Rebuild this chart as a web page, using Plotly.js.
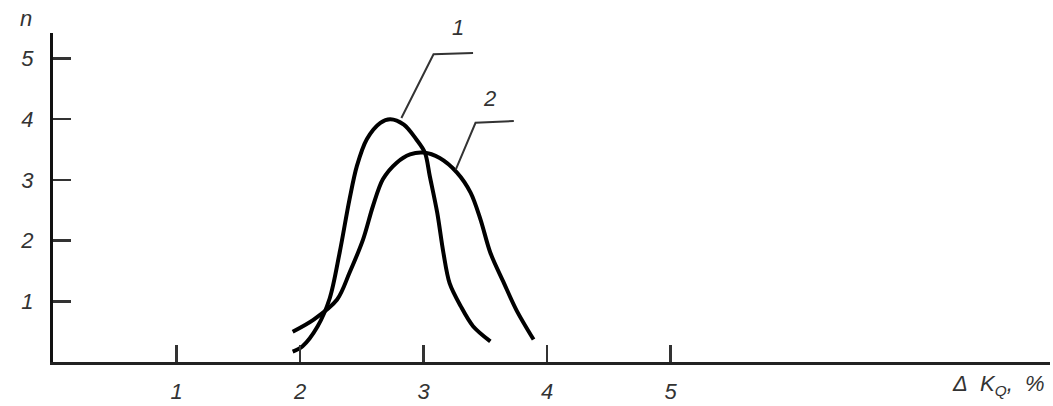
<!DOCTYPE html>
<html>
<head>
<meta charset="utf-8">
<script src="https://cdn.plot.ly/plotly-3.0.1.min.js"></script>
<style>
  html, body { margin: 0; padding: 0; background: #fff; }
  #chart { width: 1053px; height: 406px; }
</style>
</head>
<body>
<div id="chart"></div>
<script>
// Curve 1 (narrower, taller)
const curve1X = [1.94, 2.02, 2.14, 2.24, 2.32, 2.40, 2.46, 2.54, 2.65, 2.73, 2.84, 2.94, 3.01, 3.05, 3.11, 3.16, 3.21, 3.30, 3.40, 3.54];
const curve1Y = [0.17, 0.26, 0.58, 1.05, 1.80, 2.68, 3.23, 3.67, 3.94, 4.00, 3.91, 3.67, 3.45, 3.06, 2.46, 1.80, 1.30, 0.92, 0.59, 0.34];
// Curve 2 (broader, lower)
const curve2X = [1.94, 2.11, 2.30, 2.40, 2.51, 2.59, 2.67, 2.78, 2.89, 3.00, 3.13, 3.27, 3.38, 3.46, 3.54, 3.65, 3.75, 3.89];
const curve2Y = [0.50, 0.70, 1.03, 1.47, 2.02, 2.57, 3.01, 3.28, 3.42, 3.45, 3.36, 3.12, 2.79, 2.35, 1.80, 1.30, 0.86, 0.37];
// Leader lines for curve labels
const leader1X = [2.82, 3.08, 3.40];
const leader1Y = [4.02, 5.07, 5.09];
const leader2X = [3.26, 3.42, 3.73];
const leader2Y = [3.17, 3.94, 3.97];
const curveLabels = ['1', '2'];
const labelX = [3.28, 3.53];
const labelY = [5.51, 4.34];
// Ticks
const xTickVals = [1, 2, 3, 4, 5];
const xTickText = ['1', '2', '3', '4', '5'];
const yTickVals = [1, 2, 3, 4, 5];
const yTickText = ['1', '2', '3', '4', '5'];
const yTitle = 'n';
const xTitle = 'Δ\u00a0\u00a0K<sub>Q</sub>,\u00a0\u00a0%';

const Y_MAX = 5.42;
const X_MAX = 8.07;

const tickFont = { family: 'Liberation Sans, DejaVu Sans, sans-serif', size: 22, color: '#333', style: 'italic' };

const traces = [
  { x: curve1X, y: curve1Y, mode: 'lines', line: { color: '#000', width: 4, shape: 'spline', smoothing: 0.9 }, hoverinfo: 'skip' },
  { x: curve2X, y: curve2Y, mode: 'lines', line: { color: '#000', width: 4, shape: 'spline', smoothing: 0.9 }, hoverinfo: 'skip' },
  { x: leader1X, y: leader1Y, mode: 'lines', line: { color: '#333', width: 2 }, hoverinfo: 'skip' },
  { x: leader2X, y: leader2Y, mode: 'lines', line: { color: '#333', width: 2 }, hoverinfo: 'skip' }
];

// curve labels placed in paper coordinates derived from data values (label 1 lies above the y range)
const annotations = curveLabels.map((t, i) => ({
  x: labelX[i] / X_MAX, y: labelY[i] / Y_MAX, xref: 'paper', yref: 'paper', text: t, showarrow: false,
  font: tickFont, xanchor: 'center', yanchor: 'middle'
}));
annotations.push({
  xref: 'paper', yref: 'paper', x: -0.027, y: 1.0, text: yTitle, showarrow: false,
  font: tickFont, xanchor: 'center', yanchor: 'bottom'
});
annotations.push({
  xref: 'paper', yref: 'paper', x: 0.997, y: -0.12, text: xTitle, showarrow: false,
  font: tickFont, xanchor: 'right', yanchor: 'bottom'
});

const layout = {
  width: 1053, height: 406,
  margin: { l: 53, r: 3, t: 33, b: 44 },
  paper_bgcolor: '#fff', plot_bgcolor: '#fff',
  showlegend: false,
  xaxis: {
    range: [0, X_MAX], showgrid: false, zeroline: false,
    showline: true, linecolor: '#222', linewidth: 3,
    ticks: 'inside', ticklen: 17, tickwidth: 2.5, tickcolor: '#333',
    tickvals: xTickVals, ticktext: xTickText, tickfont: tickFont,
    ticklabelstandoff: 8
  },
  yaxis: {
    range: [0, Y_MAX], showgrid: false, zeroline: false,
    showline: true, linecolor: '#111', linewidth: 3,
    ticks: 'inside', ticklen: 18, tickwidth: 2.5, tickcolor: '#333',
    tickvals: yTickVals, ticktext: yTickText, tickfont: tickFont,
    ticklabelstandoff: 12
  },
  annotations: annotations
};

Plotly.newPlot('chart', traces, layout, { staticPlot: true, displayModeBar: false });
</script>
</body>
</html>
